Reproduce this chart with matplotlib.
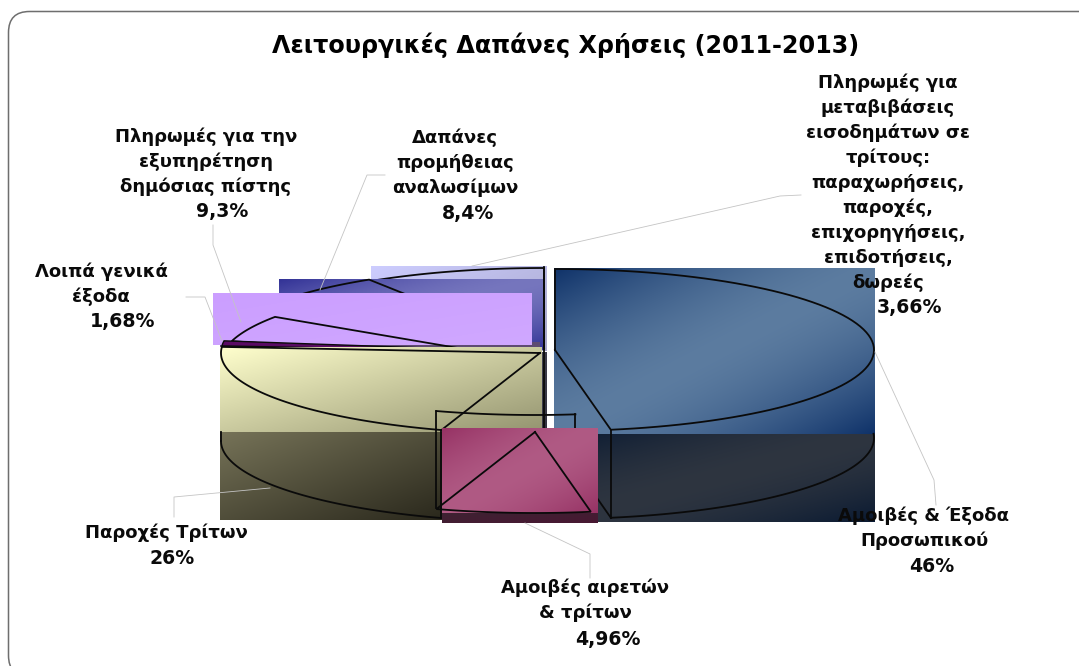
#!/usr/bin/env python3
# Exploded 3D style pie with the gradient boxes left unclipped
import numpy as np
import matplotlib
matplotlib.use('Agg')
import matplotlib.pyplot as plt
from matplotlib.patches import FancyBboxPatch

# clockwise from 12 o'clock
label_lines = [
    ['Αμοιβές & Έξοδα', 'Προσωπικού'],
    ['Αμοιβές αιρετών', '& τρίτων'],
    ['Παροχές Τρίτων'],
    ['Λοιπά γενικά', 'έξοδα'],
    ['Πληρωμές για την', 'εξυπηρέτηση', 'δημόσιας πίστης'],
    ['Δαπάνες', 'προμήθειας', 'αναλωσίμων'],
    ['Πληρωμές για', 'μεταβιβάσεις', 'εισοδημάτων σε', 'τρίτους:', 'παραχωρήσεις,',
     'παροχές,', 'επιχορηγήσεις,', 'επιδοτήσεις,', 'δωρεές'],
]
label_pct = ['46%', '4,96%', '26%', '1,68%', '9,3%', '8,4%', '3,66%']
# sweep of each slice as it is drawn, this differs from the printed percentages
drawn_share = [47.2, 7.8, 21.2, 1.0, 7.2, 6.6, 9.0]

title = 'Λειτουργικές Δαπάνες Χρήσεις (2011-2013)'

FONT = 'DejaVu Sans'
TEXT_SIZE = 13.0
PCT_SIZE = 13.6
LINE_H = 25.0
RX, RY = 319, 81

# slice centres after the explode, in pixels
centers = [(555, 350), (535, 432), (540, 353), (540, 352), (540, 362), (540, 348), (544, 349)]
# x of each text line block, y of first line, x and y of the percentage
text_pos = [
    (924, 516, 932, 566),
    (585, 588, 608, 640),
    (166, 533, 172, 559),
    (101, 272, 123, 322),
    (206, 137, 222, 212),
    (455, 138, 468, 213),
    (888, 83, 910, 308),
]
leaders = [
    [(875, 352), (934, 480), (936, 505)],
    [(525, 523), (590, 554), (590, 578)],
    [(174, 517), (174, 497), (270, 488)],
    [(186, 297), (205, 297), (222, 341)],
    [(213, 225), (213, 245), (241, 322)],
    [(385, 175), (367, 175), (320, 290)],
    [(801, 195), (780, 196), (472, 266)],
]


def grad(kind, c0, c1, n=200):
    u, v = np.meshgrid(np.linspace(0, 1, n), np.linspace(0, 1, n))
    if kind == 'mirror':
        t = 1 - np.abs(u + v - 1) ** 1.6
    else:
        t = (u + v) / 2
    c0 = np.array(c0) / 255
    c1 = np.array(c1) / 255
    return c0 + (c1 - c0) * t[..., None]


def box(ax, x0, x1, y0, y1, kind, c0, c1, z):
    ax.imshow(grad(kind, c0, c1), extent=(x0, x1, y1, y0), aspect='auto',
              interpolation='bilinear', zorder=z)


def arc(center, t0, t1, dy=0):
    t = np.radians(np.linspace(t0, t1, 80))
    return center[0] + RX * np.sin(t), center[1] + dy - RY * np.cos(t)


def line(ax, xs, ys, z, lw=1.3):
    ax.plot(xs, ys, color='#0a0a0a', lw=lw, zorder=z, solid_joinstyle='miter')


def outline(ax, center, t0, t1, z):
    x, y = arc(center, t0, t1)
    line(ax, np.r_[center[0], x, center[0]], np.r_[center[1], y, center[1]], z)


def main():
    fig = plt.figure(figsize=(10.79, 6.66), dpi=100)
    ax = fig.add_axes([0, 0, 1, 1])

    edges = np.cumsum(np.r_[0, drawn_share]) / np.sum(drawn_share) * 360
    blue, mag, yel, strip, purple, navy, lav = [(edges[i], edges[i + 1]) for i in range(7)]
    c_blue, c_mag, c_yel, c_strip, c_purple, c_navy, c_lav = centers

    # frame
    ax.add_patch(FancyBboxPatch((8.5, 11.5), 1095, 665, boxstyle='round,pad=0,rounding_size=21',
                                fc='white', ec='#6e6e6e', lw=1.1, zorder=0))

    # back slices
    box(ax, 371, 547, 266, 351, 'linear', (205, 205, 255), (165, 165, 200), 1)
    outline(ax, c_lav, *lav, 2)
    line(ax, [544, 544], [267, 349], 2)
    box(ax, 279, 543, 279, 350, 'mirror', (50, 50, 150), (118, 118, 190), 3)
    outline(ax, c_navy, *navy, 4)
    line(ax, [544, 544], [279, 349], 4)
    box(ax, 220, 540, 342, 347, 'linear', (95, 75, 115), (95, 75, 115), 5)
    box(ax, 213, 532, 293, 345, 'linear', (203, 158, 255), (208, 168, 255), 6)
    outline(ax, c_purple, purple[0] + 7, purple[1], 7)

    # thin slice
    x, y = arc(c_strip, *strip)
    ax.fill(np.r_[c_strip[0], x], np.r_[c_strip[1], y], color='#5a0a64', ec='#0a0a0a', lw=1.0, zorder=8)

    # yellow slice
    box(ax, 542, 547, 352, 428, 'linear', (70, 70, 85), (50, 50, 62), 9)
    box(ax, 220, 542, 347, 432, 'linear', (255, 255, 205), (148, 148, 112), 9)
    box(ax, 220, 442, 432, 520, 'linear', (118, 115, 88), (42, 40, 28), 9)
    outline(ax, c_yel, *yel, 10)
    line(ax, [544, 544], [349, 428], 10)
    x, y = arc(c_yel, yel[0], 270, dy=88)
    line(ax, x, y, 10)
    line(ax, [220.5, 220.5], [432, 441], 10)
    line(ax, [441, 441], [430, 518], 10)

    # blue slice
    box(ax, 554, 875, 268, 434, 'mirror', (15, 50, 105), (92, 124, 160), 11)
    box(ax, 554, 875, 434, 522, 'mirror', (10, 26, 50), (46, 53, 64), 11)
    outline(ax, c_blue, *blue, 12)
    x, y = arc(c_blue, blue[1], 87, dy=88)
    line(ax, x, y, 12)
    line(ax, [x[0], x[0]], [y[0] - 88, y[0]], 12)
    line(ax, [c_blue[0], x[0]], [c_blue[1] + 88, y[0]], 12)

    # back side of the magenta slice, then its box
    x, y = arc(c_mag, mag[0] + 2.8, mag[1], dy=-98)
    line(ax, x, y, 13)
    line(ax, [x[-1], x[-1]], [y[-1], y[-1] + 97], 13)
    line(ax, [x[0], x[0]], [y[0], 430], 13)
    box(ax, 442, 598, 428, 513, 'mirror', (150, 50, 100), (176, 90, 132), 14)
    box(ax, 442, 598, 513, 523, 'linear', (62, 34, 50), (72, 24, 50), 14)
    outline(ax, c_mag, *mag, 15)

    # leader lines
    for pts in leaders:
        xs, ys = zip(*pts)
        ax.plot(xs, ys, color='#c4c4c4', lw=0.6, zorder=16)

    # text
    ax.text(566, 45, title, fontsize=17.2, fontweight='bold', family=FONT,
            ha='center', va='center', zorder=20)
    for lines, pct, (tx, ty, px, py) in zip(label_lines, label_pct, text_pos):
        for i, s in enumerate(lines):
            ax.text(tx, ty + i * LINE_H, s, fontsize=TEXT_SIZE, fontweight='bold', family=FONT,
                    ha='center', va='center', color='#0a0a0a', zorder=20)
        ax.text(px, py, pct, fontsize=PCT_SIZE, fontweight='bold', family=FONT,
                ha='center', va='center', color='#0a0a0a', zorder=20)

    ax.set_xlim(0, 1079)
    ax.set_ylim(666, 0)
    ax.axis('off')
    fig.savefig('out.png', dpi=100, facecolor='white')
    plt.close(fig)


if __name__ == "__main__":
    main()
